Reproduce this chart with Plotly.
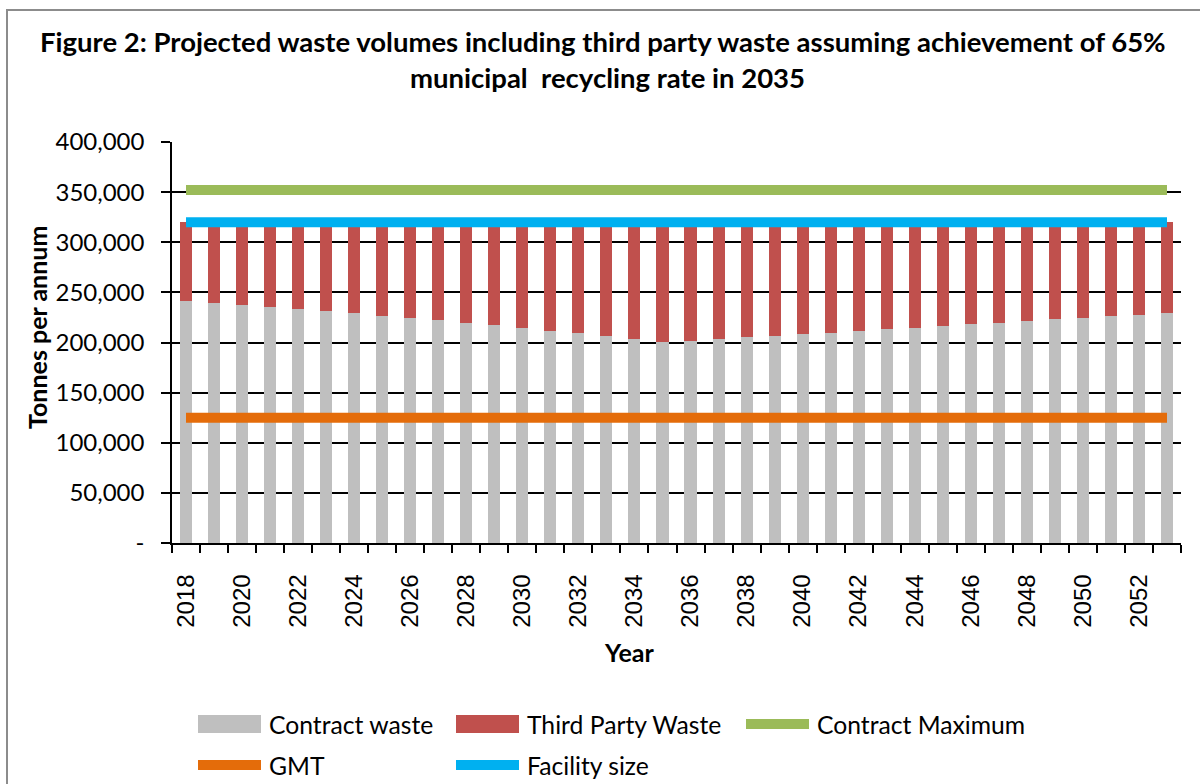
import plotly.graph_objects as go

# ---------------- data ----------------
years = list(range(2018, 2054))
contract_waste = [241500, 239500, 237500, 235500, 233500, 231500, 229500, 226500, 224500,
                  222500, 219500, 217500, 214500, 211500, 209500, 206500, 203500, 200500,
                  201500, 203500, 205500, 206500, 208500, 209500, 211500, 213500, 214500,
                  216500, 218500, 219500, 221500, 223500, 224500, 226500, 227500, 229500]
third_party_waste = [79000, 81000, 83000, 85000, 87000, 89000, 91000, 94000, 96000,
                     98000, 101000, 103000, 106000, 109000, 111000, 114000, 117000, 120000,
                     119000, 117000, 115000, 114000, 112000, 111000, 109000, 107000, 106000,
                     104000, 102000, 101000, 99000, 97000, 96000, 94000, 93000, 91000]
contract_maximum = 352000
gmt = 125000
facility_size = 320000

y_tick_vals = [0, 50000, 100000, 150000, 200000, 250000, 300000, 350000, 400000]
y_tick_text = ["-", "50,000", "100,000", "150,000", "200,000", "250,000", "300,000", "350,000", "400,000"]
x_tick_vals = list(range(2018, 2054, 2))
x_tick_text = [str(v) for v in x_tick_vals]

title_line1 = "Figure 2: Projected waste volumes including third party waste assuming achievement of 65%"
title_line2 = "municipal&nbsp;&nbsp;recycling rate in 2035"

# ---------------- layout helpers ----------------
W, H = 1200, 784
L, R, T, B = 172, 19, 142, 241
PW, PH = W - L - R, H - T - B


def px(x):
    return (x - L) / PW


def py(y):
    return (H - B - y) / PH


GRAY, RED, GREEN, ORANGE, BLUE = "#BFBFBF", "#C0504D", "#9BBB59", "#E46C0A", "#00B0F0"
SANS = "Lato"

fig = go.Figure()
fig.add_bar(x=years, y=contract_waste, name="Contract waste", marker=dict(color=GRAY, line=dict(width=0)),
            width=0.43)
fig.add_bar(x=years, y=third_party_waste, name="Third Party Waste", marker=dict(color=RED, line=dict(width=0)),
            width=0.43)
for name, val, color in [("Contract Maximum", contract_maximum, GREEN),
                         ("GMT", gmt, ORANGE),
                         ("Facility size", facility_size, BLUE)]:
    fig.add_scatter(x=[years[0], years[-1]], y=[val, val], mode="lines", name=name,
                    line=dict(color=color, width=10))

shapes = [
    # outer chart border
    dict(type="rect", xref="paper", yref="paper", x0=px(7), x1=px(1215), y0=py(10), y1=py(800),
         line=dict(color="#8c8c8c", width=2), fillcolor="rgba(0,0,0,0)", layer="below"),
]
annotations = [
    dict(text="<b>" + title_line1 + "</b>", x=px(603), y=py(41), xref="paper", yref="paper",
         xanchor="center", yanchor="middle", showarrow=False, font=dict(family=SANS, size=27.5, color="black")),
    dict(text="<b>" + title_line2 + "</b>", x=px(607), y=py(78), xref="paper", yref="paper",
         xanchor="center", yanchor="middle", showarrow=False, font=dict(family=SANS, size=27.5, color="black")),
    dict(text="<b>Tonnes per annum</b>", x=px(37), y=py(328), xref="paper", yref="paper", textangle=-90,
         xanchor="center", yanchor="middle", showarrow=False, font=dict(family=SANS, size=25, color="black")),
    dict(text="<b>Year</b>", x=px(629), y=py(652), xref="paper", yref="paper",
         xanchor="center", yanchor="middle", showarrow=False, font=dict(family=SANS, size=25, color="black")),
]

# legend (drawn as swatches + labels to reproduce the original's wide keys)
legend_items = [
    ("Contract waste", GRAY, "bar", 198, 724),
    ("Third Party Waste", RED, "bar", 456, 724),
    ("Contract Maximum", GREEN, "line", 746, 724),
    ("GMT", ORANGE, "line", 198, 765),
    ("Facility size", BLUE, "line", 456, 765),
]
for label, color, kind, x0, yc in legend_items:
    half = 9 if kind == "bar" else 5
    shapes.append(dict(type="rect", xref="paper", yref="paper", x0=px(x0), x1=px(x0 + 63),
                       y0=py(yc - half), y1=py(yc + half), line=dict(width=0), fillcolor=color))
    annotations.append(dict(text=label, x=px(x0 + 69), y=py(yc), xref="paper", yref="paper",
                            xanchor="left", yanchor="middle", showarrow=False,
                            font=dict(family=SANS, size=24.7, color="black")))

fig.update_layout(
    width=W, height=H, margin=dict(l=L, r=R, t=T, b=B, autoexpand=False),
    paper_bgcolor="white", plot_bgcolor="white",
    barmode="stack", showlegend=False,
    shapes=shapes, annotations=annotations,
    xaxis=dict(range=[2017.5, 2053.5], tickmode="array", tickvals=x_tick_vals, ticktext=x_tick_text,
               tickangle=-90, ticks="", ticklabelstandoff=20,
               tickfont=dict(family="Liberation Sans", size=24, color="black"),
               showline=True, linecolor="black", linewidth=1.5, showgrid=False, zeroline=False,
               minor=dict(tick0=2017.5, dtick=1, ticks="outside", ticklen=8, tickwidth=1.5,
                          tickcolor="black", showgrid=False)),
    yaxis=dict(range=[0, 400000], tickmode="array", tickvals=y_tick_vals, ticktext=y_tick_text,
               ticks="outside", ticklen=9, tickwidth=1.5, tickcolor="black", ticklabelstandoff=12,
               tickfont=dict(family=SANS, size=24, color="black"),
               showline=True, linecolor="black", linewidth=1.5,
               showgrid=True, gridcolor="black", gridwidth=1.5, zeroline=False),
)

fig.write_html("out.html")
